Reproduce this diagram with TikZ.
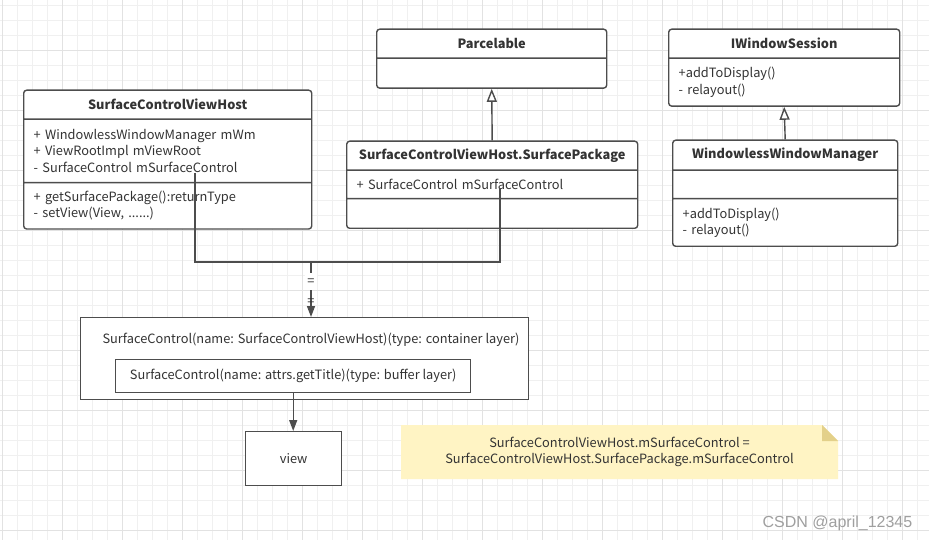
\documentclass[tikz,border=0pt]{standalone}
\usepackage{fontspec}
\setmainfont{Noto Sans CJK SC}
\newfontfamily\markfont{Liberation Sans}
\usepackage{tikz}
\usetikzlibrary{shapes.multipart, arrows.meta}
\definecolor{linegray}{HTML}{4D4D4D}
\definecolor{textgray}{HTML}{333333}
\definecolor{gridminor}{HTML}{F0F0F0}
\definecolor{gridmajor}{HTML}{E2E2E2}
\definecolor{notefill}{HTML}{FFF4C4}
\definecolor{notefold}{HTML}{E3D08A}
\newcommand{\umlfont}{\fontsize{12.8}{16.3}\selectfont}
\newcommand{\partbox}[2]{\parbox[c][#1][c]{\linewidth}{#2}}
\tikzstyle{umlclass} = [rectangle split, rectangle split draw splits=true, draw=linegray, line width=1.4pt, rounded corners=3pt, fill=white, text=textgray, inner xsep=10pt, inner ysep=0pt, anchor=north west, font=\umlfont]
\tikzstyle{plainbox} = [rectangle, draw=linegray, line width=1.4pt, fill=white, text=textgray, font=\umlfont, anchor=north west]
\tikzstyle{plaintext} = [text=textgray, font=\umlfont]
\tikzstyle{line} = [draw=linegray, line width=1.4pt]
\tikzstyle{arrow} = [line, -{Triangle[length=11pt,width=8pt]}]
\tikzstyle{inherit} = [line, -{Triangle[open,length=13pt,width=10pt,fill=white]}]

\begin{document}
\begin{tikzpicture}[x=1pt, y=-1pt]
\useasboundingbox (0,0) rectangle (929,540);
%背景网格
\fill[white] (0,0) rectangle (929,540);
\foreach \x in {2.5,17.5,...,917.5} \draw[gridminor] (\x,0) -- (\x,540);
\foreach \y in {5,20,...,530} \draw[gridminor] (0,\y) -- (929,\y);
\foreach \x in {2.5,62.5,...,902.5} \draw[gridmajor] (\x,0) -- (\x,540);
\foreach \y in {50,110,...,530} \draw[gridmajor] (0,\y) -- (929,\y);
%定义类
\node[umlclass, rectangle split parts=3, text width=268pt] (host) at (23,89.5)
  {\partbox{27.6pt}{\centering\textbf{SurfaceControlViewHost}}
   \nodepart{second}\partbox{62pt}{+ WindowlessWindowManager mWm\\+ ViewRootImpl mViewRoot\\- SurfaceControl mSurfaceControl}
   \nodepart{third}\partbox{45pt}{+ getSurfacePackage():returnType\\- setView(View, ......)}};
\node[umlclass, rectangle split parts=2, text width=210pt] (parcel) at (376,28.5)
  {\partbox{27.6pt}{\centering\textbf{Parcelable}}
   \nodepart{second}\partbox{28.5pt}{}};
\node[umlclass, rectangle split parts=3, text width=271pt] (package) at (346,140.5)
  {\partbox{27.6pt}{\centering\textbf{SurfaceControlViewHost.SurfacePackage}}
   \nodepart{second}\partbox{27pt}{+ SurfaceControl mSurfaceControl}
   \nodepart{third}\partbox{28.3pt}{}};
\node[umlclass, rectangle split parts=2, text width=211pt] (session) at (668,28.5)
  {\partbox{27.6pt}{\centering\textbf{IWindowSession}}
   \nodepart{second}\partbox{46.5pt}{+addToDisplay()\\- relayout()}};
\node[umlclass, rectangle split parts=3, text width=205pt] (manager) at (672,139.5)
  {\partbox{28.6pt}{\centering\textbf{WindowlessWindowManager}}
   \nodepart{second}\partbox{27pt}{}
   \nodepart{third}\partbox{46.3pt}{+addToDisplay()\\- relayout()}};
%图层
\node[plainbox, minimum width=448pt, minimum height=82pt] (container) at (80,317) {};
\node[plaintext] (containertitle) at (311,340) {SurfaceControl(name: SurfaceControlViewHost)(type: container layer)};
\node[plainbox, minimum width=355pt, minimum height=33pt] (buffer) at (115,359) {SurfaceControl(name: attrs.getTitle)(type: buffer layer)};
\node[plainbox, minimum width=96pt, minimum height=54pt] (view) at (245,431) {view};
%注释
\fill[notefill] (401,425) -- (822,425) -- (838,441) -- (838,479) -- (401,479) -- cycle;
\fill[notefold] (822,425) -- (838,441) -- (822,441) -- cycle;
\node[plaintext, align=center] (note) at (619.5,452) {SurfaceControlViewHost.mSurfaceControl =\\SurfaceControlViewHost.SurfacePackage.mSurfaceControl};
\node[text=gray!75, font=\markfont\fontsize{16}{18}\selectfont] (watermark) at (837.5,523) {CSDN @april\_12345};
%连线
\coordinate (hostfield) at (195,173);
\coordinate (pkgfield) at (500,188);
\coordinate (join) at (311,262);
\draw [inherit] (package.north) -- (parcel.south);
\draw [inherit] (manager.north) -- (session.south);
\draw [line] (hostfield) |- (join) -| (pkgfield);
\draw [arrow] (join) -- node [plaintext, pos=0.36, fill=white, inner xsep=2pt, inner ysep=5pt] {=} node [plaintext, pos=0.73, inner sep=0pt] {=} (join |- container.north);
\draw [arrow] (buffer.south) -- (buffer.south |- view.north);
\end{tikzpicture}
\end{document}
